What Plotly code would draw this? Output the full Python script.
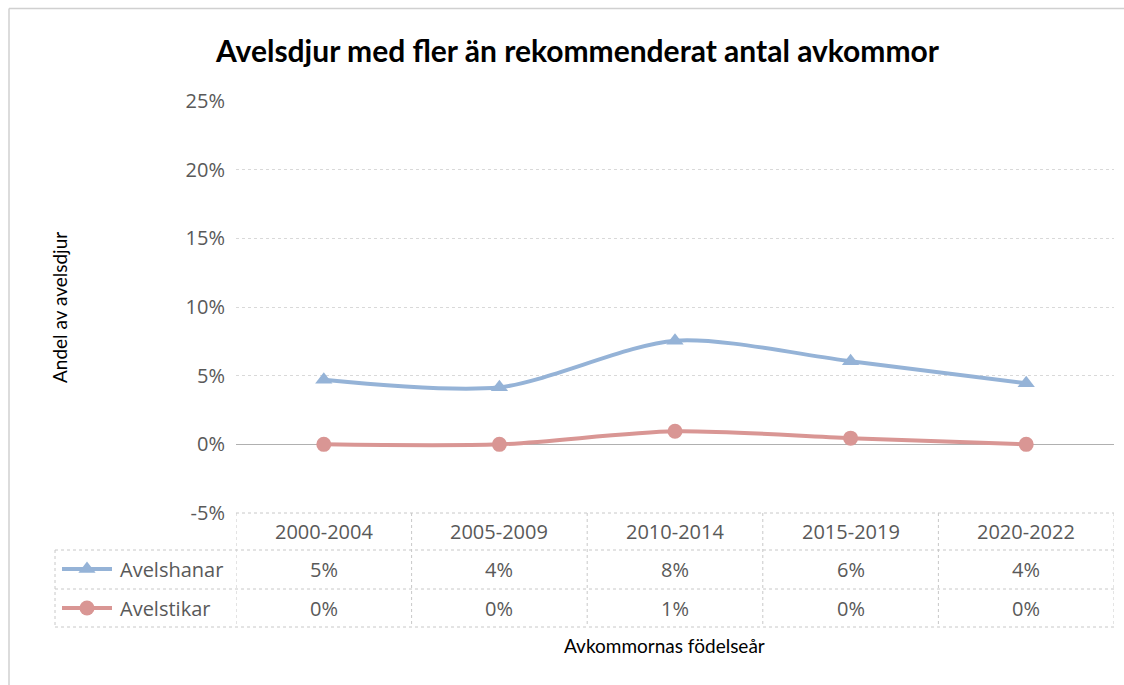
import plotly.graph_objects as go

categories = ["2000-2004", "2005-2009", "2010-2014", "2015-2019", "2020-2022"]
avelshanar = [4.7, 4.15, 7.55, 6.05, 4.45]   # percent
avelstikar = [0.0, 0.0, 0.95, 0.45, 0.0]     # percent
series_names = ["Avelshanar", "Avelstikar"]
y_ticks = [-5, 0, 5, 10, 15, 20, 25]
y_tick_labels = [f"{v}%" for v in y_ticks]

title = "Avelsdjur med fler än rekommenderat antal avkommor"
y_title = "Andel av avelsdjur"
x_title = "Avkommornas födelseår"

W, H = 1124, 685
BLUE = "#95B3D7"
RED = "#D99694"
GRID = "#D9D9D9"
TXT = "#595959"
FONT = "Lato, 'Open Sans', sans-serif"
NUMFONT = "'Open Sans', sans-serif"

def px(x):
    return x / W

def py(y):
    return (H - y) / H

fig = go.Figure()
x_idx = list(range(len(categories)))
fig.add_trace(go.Scatter(
    x=x_idx, y=avelshanar, mode="lines+markers",
    name=series_names[0], line=dict(color=BLUE, width=4, shape="spline", smoothing=0.8),
    marker=dict(symbol="triangle-up", size=15, color=BLUE), showlegend=False))
fig.add_trace(go.Scatter(
    x=x_idx, y=avelstikar, mode="lines+markers",
    name=series_names[1], line=dict(color=RED, width=4, shape="spline", smoothing=0.8),
    marker=dict(symbol="circle", size=15, color=RED), showlegend=False))

# legend keys inside the data table (second subplot covering the whole figure)
key_rows = [569, 608]
key_syms = ["triangle-up", "circle"]
key_cols = [BLUE, RED]
for r, s, c in zip(key_rows, key_syms, key_cols):
    fig.add_trace(go.Scatter(
        x=[px(62), px(112)], y=[py(r), py(r)], mode="lines", xaxis="x2", yaxis="y2",
        line=dict(color=c, width=4), showlegend=False, hoverinfo="skip"))
    fig.add_trace(go.Scatter(
        x=[px(87)], y=[py(r)], mode="markers", xaxis="x2", yaxis="y2",
        marker=dict(symbol=s, size=15, color=c), showlegend=False, hoverinfo="skip"))

plot_top, plot_bot = 101, 513
row_lines = [550, 589, 627]
table_left = 55

shapes = []
line_style = dict(color="#C8C8C8", width=1, dash="dot")
for yy in row_lines:
    shapes.append(dict(type="line", xref="paper", yref="paper", x0=px(table_left), x1=px(1114),
                       y0=py(yy), y1=py(yy), line=line_style))
shapes.append(dict(type="line", xref="paper", yref="paper", x0=px(236), x1=px(1114),
                   y0=py(plot_bot), y1=py(plot_bot), line=line_style))
for i in range(len(categories) + 1):
    shapes.append(dict(type="line", xref="x", yref="paper", x0=i - 0.5, x1=i - 0.5,
                       y0=py(plot_bot), y1=py(row_lines[-1]), line=line_style))
shapes.append(dict(type="line", xref="paper", yref="paper", x0=px(table_left), x1=px(table_left),
                   y0=py(row_lines[0]), y1=py(row_lines[-1]), line=line_style))
# chart border (top and left visible)
shapes.append(dict(type="line", xref="paper", yref="paper", x0=px(9), x1=1.01,
                   y0=py(8.5), y1=py(8.5), line=dict(color="#D0D0D0", width=1.5)))
shapes.append(dict(type="line", xref="paper", yref="paper", x0=px(9), x1=px(9),
                   y0=py(8.5), y1=-0.01, line=dict(color="#D0D0D0", width=1.5)))

annotations = []
hdr_y = (plot_bot + row_lines[0]) / 2
r1_y = (row_lines[0] + row_lines[1]) / 2
r2_y = (row_lines[1] + row_lines[2]) / 2
C = dict(xanchor="center", yanchor="middle", showarrow=False)
for i, cat in enumerate(categories):
    annotations.append(dict(x=i, y=py(hdr_y), xref="x", yref="paper", text=cat,
                            font=dict(size=20, color=TXT, family=NUMFONT), **C))
    for vals, yy in ((avelshanar, r1_y), (avelstikar, r2_y)):
        annotations.append(dict(x=i, y=py(yy), xref="x", yref="paper",
                                text=f"{int(vals[i] + 0.5)}%",
                                font=dict(size=20, color=TXT, family=NUMFONT), **C))
for name, yy in zip(series_names, (r1_y, r2_y)):
    annotations.append(dict(x=px(118), y=py(yy), xref="paper", yref="paper", text=name,
                            xanchor="left", yanchor="middle", showarrow=False,
                            font=dict(size=20, color=TXT, family=NUMFONT)))
annotations.append(dict(x=px(664), y=py(645), xref="paper", yref="paper", text=x_title,
                        font=dict(size=19, color="#000000", family=FONT), **C))
annotations.append(dict(x=px(59), y=py(308), xref="paper", yref="paper", text=y_title,
                        textangle=-90, font=dict(size=19, color="#000000", family=FONT), **C))
annotations.append(dict(x=px(577), y=py(50), xref="paper", yref="paper", text=f"<b>{title}</b>",
                        font=dict(size=30, color="#000000", family=FONT), **C))

fig.update_layout(
    width=W, height=H, margin=dict(l=0, r=0, t=0, b=0, pad=0),
    paper_bgcolor="white", plot_bgcolor="rgba(0,0,0,0)",
    xaxis=dict(domain=[px(236), px(1114)], range=[-0.5, len(categories) - 0.5],
               showticklabels=False, showgrid=False, zeroline=False, fixedrange=True,
               automargin=False),
    yaxis=dict(domain=[py(plot_bot), py(plot_top)], range=[-5, 25],
               tickvals=y_ticks, ticktext=y_tick_labels,
               showgrid=True, gridcolor=GRID, griddash="dot", gridwidth=1,
               zeroline=True, zerolinecolor="#B0B0B0", zerolinewidth=1,
               tickfont=dict(size=20, color=TXT, family=NUMFONT), ticks="",
               ticklabelstandoff=10, showline=False, fixedrange=True, automargin=False),
    xaxis2=dict(domain=[0, 1], range=[0, 1], visible=False, anchor="y2", fixedrange=True,
                automargin=False),
    yaxis2=dict(domain=[0, 1], range=[0, 1], visible=False, anchor="x2", fixedrange=True,
                automargin=False),
    shapes=shapes, annotations=annotations,
)

fig.write_html("out.html", config={"displayModeBar": False},
               post_script="document.body.style.margin='0';document.body.style.overflow='hidden';")
